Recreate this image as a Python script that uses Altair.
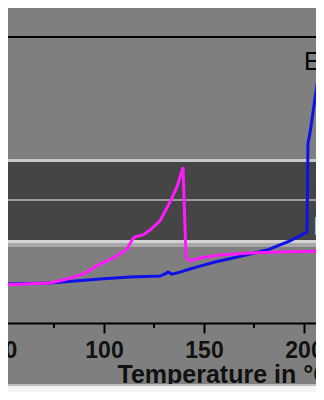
import altair as alt
import pandas as pd

# ---- data ----
temp_magenta = [48, 60.5, 73, 81.5, 89.5, 98, 104.5, 108, 111.5, 114, 115.5, 119.5, 123, 128,
                133, 136.5, 139.5, 141, 143, 148, 158, 173, 188, 210]
val_magenta = [13.3, 13.6, 14.0, 15.4, 17.1, 20.6, 22.7, 24.1, 25.9, 29.0, 30.1, 30.8, 32.5, 35.7,
               42.3, 47.6, 54.5, 23.1, 21.7, 22.7, 23.8, 24.5, 24.8, 25.2]
temp_blue = [48, 73, 98, 113, 128, 131.5, 132, 134, 138, 143, 148, 155.5, 164.5, 181.5, 193,
             201.5, 202, 203, 207, 208, 210]
val_blue = [13.6, 14.0, 15.4, 16.1, 16.4, 17.5, 17.8, 17.1, 17.8, 18.9, 19.9, 21.3, 22.7, 25.5,
            28.7, 31.8, 62.9, 66.4, 85.7, 86.0, 86.0]
major_ticks = [50, 100, 150, 200]
minor_ticks = [75, 125, 175]
labels = ["Ex", "In"]
label_temp = [200, 204.5]
label_val = [88.5, 30.8]
x_title = "Temperature in °C"

rows = []
for i, (t, v) in enumerate(zip(temp_blue, val_blue)):
    rows.append({"series": "Ex", "T": t, "v": v, "i": i})
for i, (t, v) in enumerate(zip(temp_magenta, val_magenta)):
    rows.append({"series": "In", "T": t, "v": v, "i": i})
df = pd.DataFrame(rows)
df_lab = pd.DataFrame({"label": labels, "T": label_temp, "v": label_val})
df_minor = pd.DataFrame({"T": minor_ticks})

W, H = 312, 286
xscale = alt.Scale(domain=[50, 206], nice=False, zero=False)
yscale = alt.Scale(domain=[0, 100], nice=False, zero=False)

base = alt.Chart(df)

# decorative background bands
def band(y1, y2, color):
    return alt.Chart(df_minor).mark_rect(color=color, clip=False).encode(
        x=alt.value(0), x2=alt.value(W), y=alt.value(y1), y2=alt.value(y2)
    )

bg = (band(124, 203, "#454545") + band(122, 125, "#c8c8c8") + band(162, 164, "#9a9a9a")
      + band(203, 206, "#d2d2d2") + band(206, 210, "#a8a8a8")
      + band(347, 349, "#bdbdbd") + band(349, 360, "#f4f4f4"))

lines = base.mark_line(strokeWidth=3, clip=True).encode(
    x=alt.X("T:Q", scale=xscale,
            axis=alt.Axis(values=major_ticks, title=x_title, format="d", labelFlush=False,
                          titleX=113, titleY=59, titleAlign="left",
                          titleBaseline="alphabetic", titleAnchor="start")),
    y=alt.Y("v:Q", scale=yscale, axis=None),
    color=alt.Color("series:N", scale=alt.Scale(domain=["Ex", "In"], range=["#1010e8", "#ff1aff"]),
                    legend=None),
    order="i:Q",
)

minor = alt.Chart(df_minor).mark_rule(color="black", strokeWidth=2, clip=False).encode(
    x=alt.X("T:Q", scale=xscale), y=alt.value(H), y2=alt.value(H + 5)
)

texts = alt.Chart(df_lab).mark_text(align="left", baseline="alphabetic", fontSize=25,
                                    font="Liberation Sans", clip=False).encode(
    x=alt.X("T:Q", scale=xscale),
    y=alt.Y("v:Q", scale=yscale),
    text="label:N",
    color=alt.Color("label:N", scale=alt.Scale(domain=["Ex", "In"], range=["#000000", "#e8e8e8"]),
                    legend=None),
)

top = alt.Chart(df_minor).mark_rule(color="black", strokeWidth=1.5).encode(
    x=alt.value(0), x2=alt.value(W), y=alt.value(0)
)

chart = alt.layer(bg, lines, minor, texts, top).resolve_scale(color="independent").properties(
    width=W, height=H,
    padding={"left": -4, "top": 29, "right": 0, "bottom": 69},
    autosize=alt.AutoSizeParams(type="none"),
    background="#7f7f7f",
).configure_view(stroke=None, fill=None).configure_axis(
    domainColor="black", domainWidth=2, tickColor="black", tickWidth=2, tickSize=10,
    labelFont="Liberation Sans", labelFontSize=23, labelFontWeight="bold", labelColor="#111111",
    labelPadding=6, grid=False,
    titleFont="Liberation Sans", titleFontSize=25, titleFontWeight="bold", titleColor="#111111",
)

chart.save("out.html", embed_options={"renderer": "svg", "actions": False})
